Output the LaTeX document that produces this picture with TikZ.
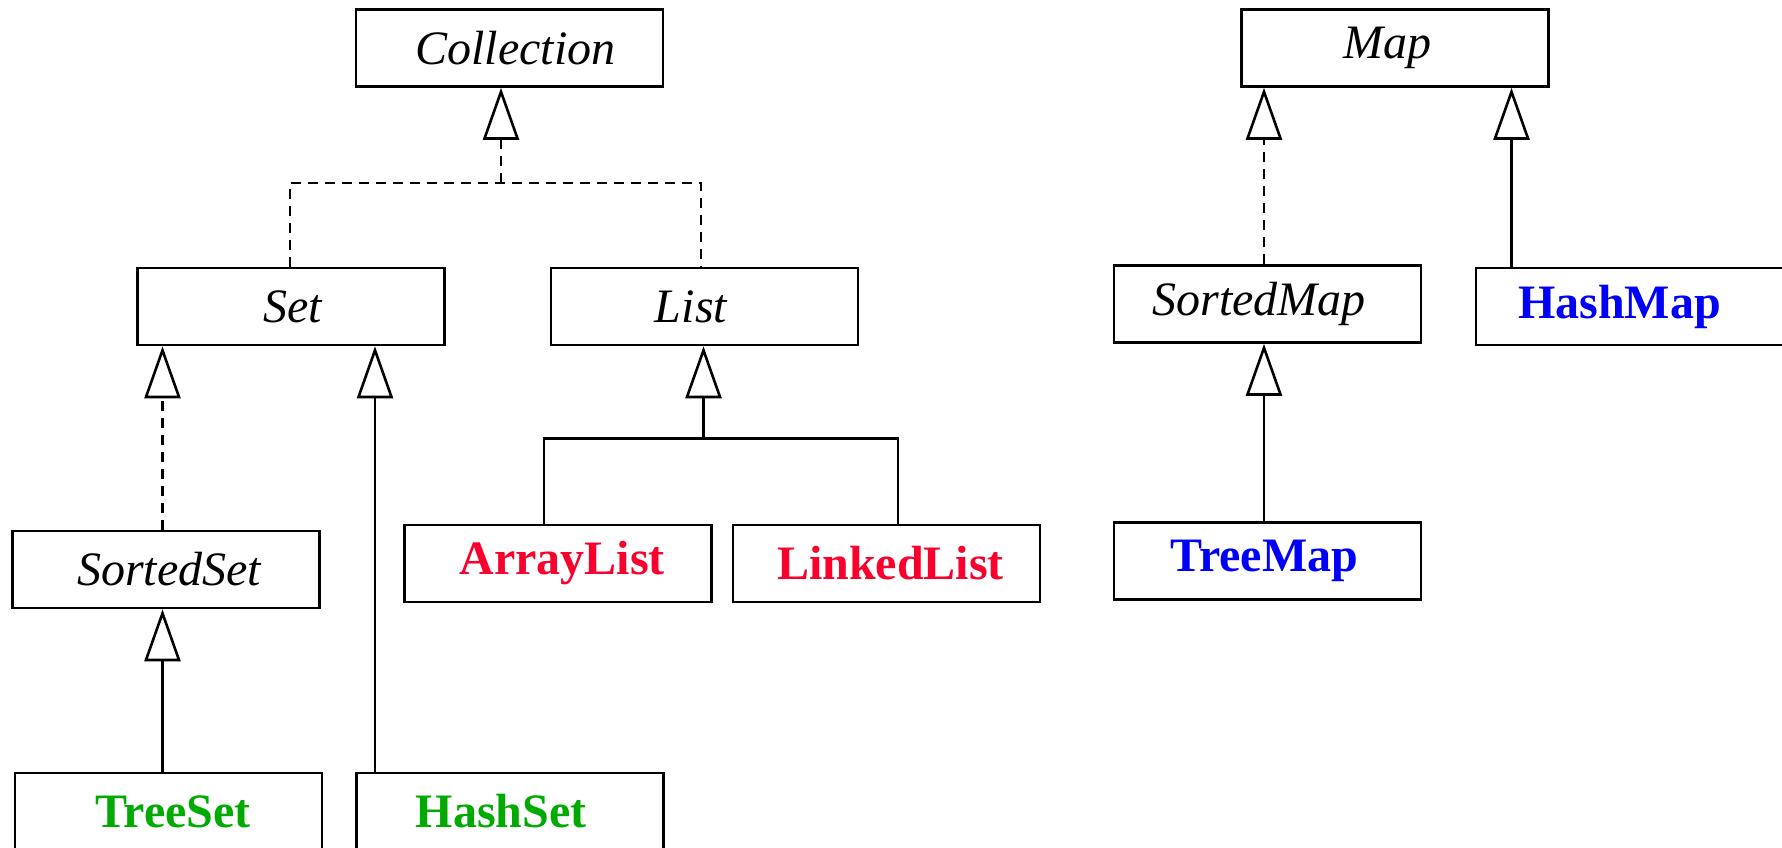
\documentclass[tikz,border=0pt]{standalone}
\usepackage{fontspec}
\setmainfont{Liberation Serif}
\usetikzlibrary{arrows.meta}
\definecolor{clsred}{RGB}{250,0,45}
\definecolor{clsgreen}{RGB}{0,170,0}
\definecolor{clsblue}{RGB}{0,0,250}
% set a label off-centre by #1 inside its box
\newcommand\tshift[2]{\makebox[0pt]{\kern#1\kern#1#2}}
\begin{document}
\begin{tikzpicture}[x=1pt,y=-1pt,
  box/.style={draw,line width=2.6pt,minimum width=307pt,minimum height=77pt,inner sep=0pt,
    font=\fontsize{48}{58}\selectfont},
  iface/.style={box,font=\fontsize{48}{58}\selectfont\itshape},
  impl/.style={box,font=\fontsize{48}{58}\selectfont\bfseries,text=#1},
  link/.style={line width=2.6pt},
  dashlink/.style={link,dash pattern=on 10pt off 7pt},
  inherit/.style={-{Triangle[open,length=52pt,width=36pt]}},
]
\useasboundingbox (0,0) rectangle (1782,848);

% interfaces
\node[iface] (collection) at (509.5,48) {\tshift{6pt}{Collection}};
\node[iface] (map) at (1395,48) {\tshift{-8pt}{Map}};
\node[iface] (set) at (291,306.5) {\tshift{1.5pt}{Set}};
\node[iface] (list) at (704.5,306.5) {\tshift{-13.5pt}{List}};
\node[iface] (sortedmap) at (1267.5,304) {\tshift{-8.5pt}{SortedMap}};
\node[iface] (sortedset) at (166,569.5) {\tshift{3pt}{SortedSet}};

% classes
\node[impl=clsblue] (hashmap) at (1629.5,306.5) {\tshift{-10pt}{HashMap}};
\node[impl=clsred] (arraylist) at (558,563.5) {\tshift{4pt}{ArrayList}};
\node[impl=clsred] (linkedlist) at (886.5,563.5) {\tshift{4pt}{LinkedList}};
\node[impl=clsblue] (treemap) at (1267.5,561) {\tshift{-3pt}{TreeMap}};
\node[impl=clsgreen] (treeset) at (168.5,811.5) {\tshift{4.5pt}{TreeSet}};
\node[impl=clsgreen] (hashset) at (510,811.5) {\tshift{-9pt}{HashSet}};

% arrow tip positions on the parent boxes
\coordinate (tcoll) at ([xshift=-8.5pt]collection.south);
\coordinate (tsetl) at ([xshift=-128.5pt]set.south);
\coordinate (tsetr) at ([xshift=84pt]set.south);
\coordinate (tsset) at ([xshift=-3.5pt]sortedset.south);
\coordinate (tlist) at ([xshift=-1pt]list.south);
\coordinate (tmapl) at ([xshift=-131pt]map.south);
\coordinate (tmapr) at ([xshift=116.5pt]map.south);
\coordinate (tsmap) at ([xshift=-3.5pt]sortedmap.south);

% junction heights
\coordinate (ycoll) at (0,183);
\coordinate (ylist) at (0,438.7);
\coordinate (jcoll) at (tcoll |- ycoll);
\coordinate (jlist) at (tlist |- ylist);

% Collection <- Set, List
\draw[dashlink] ([xshift=-1pt]set.north) |- (jcoll) -| ([xshift=-3.5pt]list.north);
\draw[dashlink,inherit] (jcoll) -- (tcoll);

% Set <- SortedSet, HashSet
\draw[dashlink,inherit] (sortedset.north -| tsetl) -- (tsetl);
\draw[link,inherit] (hashset.north -| tsetr) -- (tsetr);

% SortedSet <- TreeSet
\draw[link,inherit] (treeset.north -| tsset) -- (tsset);

% List <- ArrayList, LinkedList
\draw[link] ([xshift=-14pt]arraylist.north) |- (jlist) -| ([xshift=11.5pt]linkedlist.north);
\draw[link,inherit] (jlist) -- (tlist);

% Map <- SortedMap, HashMap
\draw[dashlink,inherit] (sortedmap.north -| tmapl) -- (tmapl);
\draw[link,inherit] (hashmap.north -| tmapr) -- (tmapr);

% SortedMap <- TreeMap
\draw[link,inherit] (treemap.north -| tsmap) -- (tsmap);
\end{tikzpicture}
\end{document}
